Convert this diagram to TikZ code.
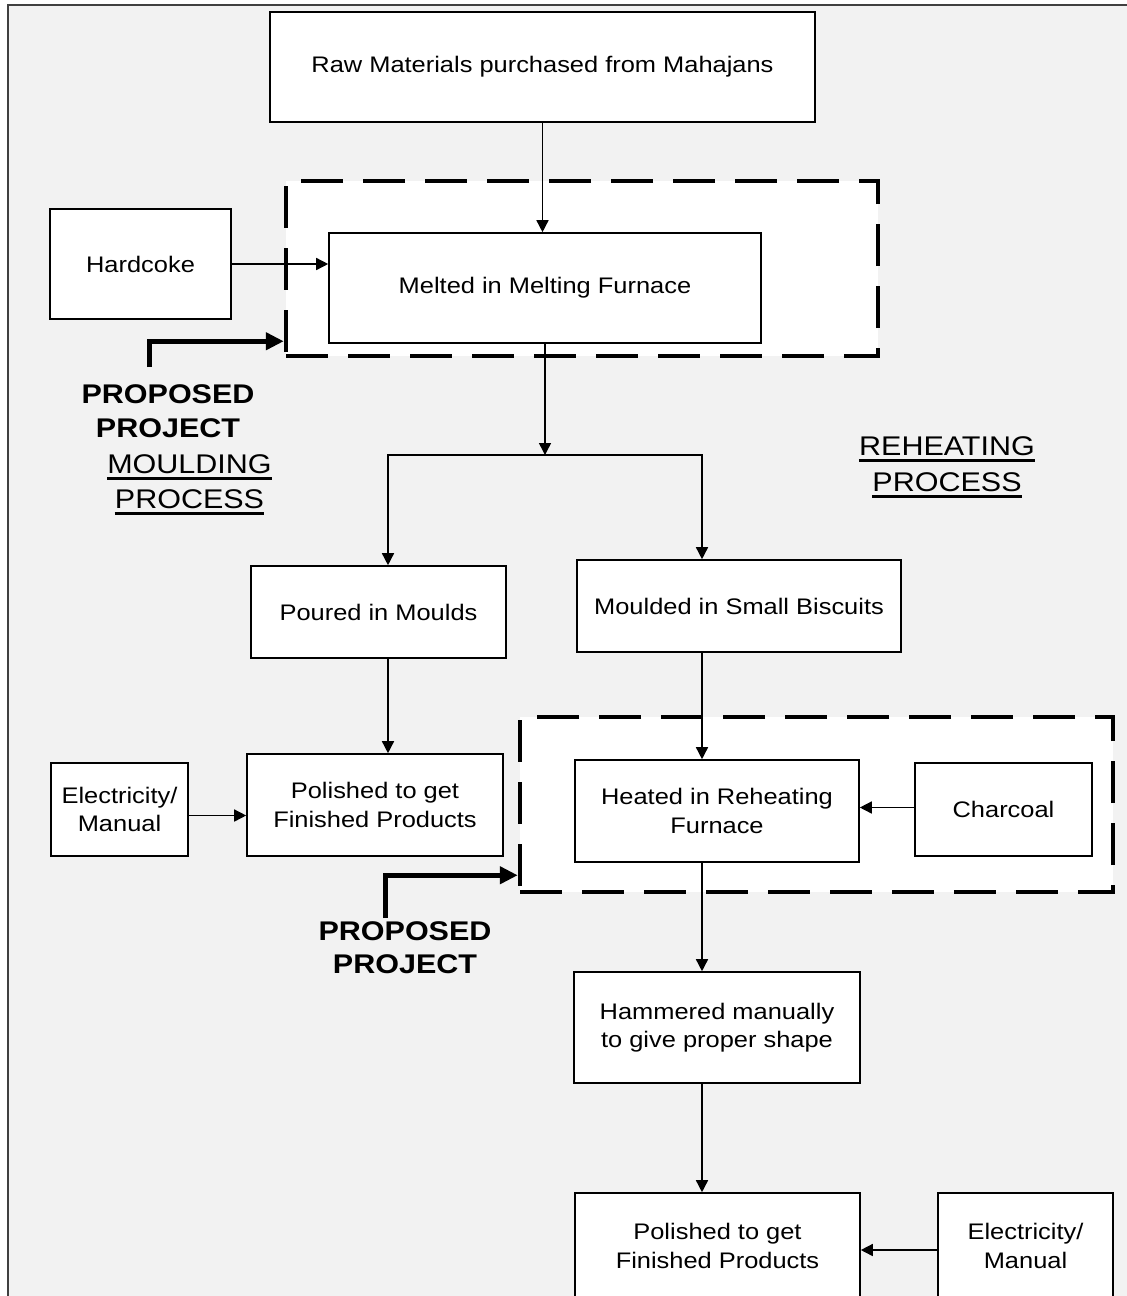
\documentclass[tikz,border=0pt]{standalone}
\usepackage{fontspec}
\setmainfont{Liberation Sans}[FakeStretch=1.13]
\usetikzlibrary{arrows.meta}
\definecolor{bg}{HTML}{F2F2F2}
\tikzset{
  box/.style={draw=black, line width=1.6pt, fill=white, rectangle, inner sep=0pt,
    align=center, font=\fontsize{22.5}{28.5}\selectfont},
  dashbox/.style={draw=black, line width=4.5pt, dash pattern=on 42pt off 20pt,
    fill=white, rectangle, inner sep=0pt},
  arr/.style={line width=1.5pt, -{Triangle[length=12pt,width=12pt]}},
  bigarr/.style={line width=5pt, -{Triangle[length=18pt,width=17pt]}},
  lbl/.style={inner sep=0pt, anchor=base, font=\fontsize{27}{33}\selectfont},
  blbl/.style={inner sep=0pt, anchor=base, font=\fontsize{27}{33}\selectfont\bfseries},
  ul/.style={line width=2.5pt},
}
\begin{document}
\begin{tikzpicture}[x=1pt,y=-1pt]
\useasboundingbox (0,0) rectangle (1127,1296);
% background frame
\fill[bg] (8,5) rectangle (1140,1310);
\draw[line width=1.5pt, black!75] (8,1310) -- (8,5) -- (1140,5);

% dashed regions
\node[dashbox, minimum width=592pt, minimum height=175pt] (d1) at (582,268.5) {};
\node[dashbox, minimum width=593pt, minimum height=175pt] (d2) at (816.5,804.5) {};

% boxes
\node[box, minimum width=545pt, minimum height=110pt] (raw) at (542.5,67) {Raw Materials purchased from Mahajans};
\node[box, minimum width=181pt, minimum height=110pt] (hard) at (140.5,264) {Hardcoke};
\node[box, minimum width=432pt, minimum height=110pt] (melt) at (545,288) {Melted in Melting Furnace};
\node[box, minimum width=255pt, minimum height=92pt] (poured) at (378.5,612) {Poured in Moulds};
\node[box, minimum width=324pt, minimum height=92pt] (moulded) at (739,606) {Moulded in Small Biscuits};
\node[box, minimum width=137pt, minimum height=93pt] (elec1) at (119.5,809.5) {Electricity/\\Manual};
\node[box, minimum width=256pt, minimum height=102pt] (pol1) at (375,805) {Polished to get\\Finished Products};
\node[box, minimum width=284pt, minimum height=102pt] (heat) at (717,811) {Heated in Reheating\\Furnace};
\node[box, minimum width=177pt, minimum height=93pt] (char) at (1003.5,809.5) {Charcoal};
\node[box, minimum width=286pt, minimum height=111pt] (hammer) at (717,1027.5) {Hammered manually\\to give proper shape};
\node[box, minimum width=285pt, minimum height=106pt] (pol2) at (717.5,1246) {Polished to get\\Finished Products};
\node[box, minimum width=175pt, minimum height=106pt] (elec2) at (1025.5,1246) {Electricity/\\Manual};

% branch coordinates
\coordinate (bm) at (545,455);
\coordinate (bl) at (388,455);
\coordinate (br) at (702,455);

% connectors
\draw[arr] (raw.south) -- (raw.south |- melt.north);
\draw[arr] (hard.east) -- (hard.east -| melt.west);
\draw[arr] (melt.south) -- (bm);
\draw[arr] (bm) -- (bl) -- (bl |- poured.north);
\draw[arr] (bm) -- (br) -- (br |- moulded.north);
\draw[arr] (poured.south -| bl) -- (pol1.north -| bl);
\draw[arr] ([yshift=-6pt]elec1.east) -- ([yshift=-6pt]elec1.east -| pol1.west);
\draw[arr] (moulded.south -| br) -- (heat.north -| br);
\draw[arr] ([yshift=2pt]char.west) -- ([yshift=2pt]char.west -| heat.east);
\draw[arr] (heat.south -| br) -- (hammer.north -| br);
\draw[arr] (hammer.south -| br) -- (pol2.north -| br);
\draw[arr] ([yshift=-4pt]elec2.west) -- ([yshift=-4pt]elec2.west -| pol2.east);

% proposed project arrows
\coordinate (p1) at (149,367);
\coordinate (p2) at (385,918);
\draw[bigarr] (p1) |- ([yshift=17pt]d1.south west);
\draw[bigarr] (p2) |- ([yshift=19pt]d2.south west);

% labels
\node[blbl] (pp1a) at (168,403) {PROPOSED};
\node[blbl] (pp1b) at (168,437) {PROJECT};
\node[lbl] (mp1) at (189.5,473) {MOULDING};
\node[lbl] (mp2) at (189.5,508) {PROCESS};
\draw[ul] ([yshift=-5.5pt]mp1.base west) -- ([yshift=-5.5pt]mp1.base east);
\draw[ul] ([yshift=-5.5pt]mp2.base west) -- ([yshift=-5.5pt]mp2.base east);
\node[lbl] (rp1) at (947,455) {REHEATING};
\node[lbl] (rp2) at (947,491) {PROCESS};
\draw[ul] ([yshift=-5.5pt]rp1.base west) -- ([yshift=-5.5pt]rp1.base east);
\draw[ul] ([yshift=-5.5pt]rp2.base west) -- ([yshift=-5.5pt]rp2.base east);
\node[blbl] (pp2a) at (405,940) {PROPOSED};
\node[blbl] (pp2b) at (405,973) {PROJECT};
\end{tikzpicture}
\end{document}
